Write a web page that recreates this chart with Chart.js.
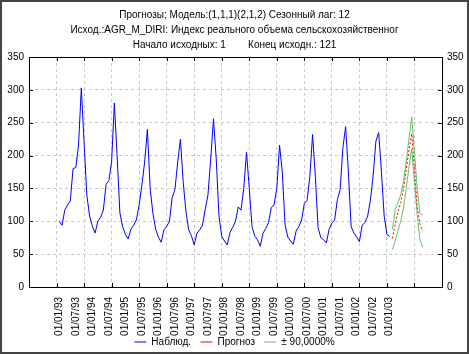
<!DOCTYPE html>
<html>
<head>
<meta charset="utf-8">
<script src="https://cdn.jsdelivr.net/npm/chart.js@4.4.1/dist/chart.umd.min.js"></script>
<style>
  html, body { margin: 0; padding: 0; background: #fff; }
  #wrap { width: 469px; height: 354px; }
</style>
</head>
<body>
<div id="wrap"><canvas id="chart" width="469" height="354"></canvas></div>
<script>
// Title lines
const titleLines = [
    'Прогнозы; Модель:(1,1,1)(2,1,2) Сезонный лаг: 12',
    'Исход.:AGR_M_DIRI: Индекс реального объема сельскохозяйственног',
    'Начало исходных: 1        Конец исходн.: 121'
];

// Observed series, cases 1..121 (Jan 1993 .. Jan 2003)
const observed = [
    100, 94, 117, 125, 131, 180, 182, 216, 303, 220, 140, 108,
    93, 82, 100, 106, 117, 156, 162, 190, 280, 200, 113, 92,
    80, 73, 88, 94, 102, 125, 155, 190, 240, 150, 112, 88,
    76, 68, 87, 92, 100, 136, 148, 190, 225, 160, 115, 87,
    78, 64, 82, 87, 94, 118, 140, 195, 256, 195, 108, 77,
    70, 64, 83, 91, 100, 122, 117, 150, 205, 150, 92, 77,
    72, 62, 82, 89, 98, 121, 125, 150, 216, 175, 95, 76,
    70, 65, 85, 92, 102, 127, 132, 168, 232, 168, 90, 75,
    72, 67, 88, 97, 102, 133, 148, 212, 244, 175, 92, 82,
    76, 69, 94, 98, 108, 132, 170, 222, 235, 175, 108, 80,
    77
];

// Forecast, cases 122..133, with 90% band
const forecastStart = 122;
const forecast = [74, 96, 115, 128, 148, 178, 208, 233, 180, 122, 95, 85];
const upper = [88, 118, 128, 140, 160, 190, 225, 259, 205, 150, 112, 110];
const lower = [57, 70, 85, 100, 120, 150, 182, 210, 160, 110, 72, 61];

// X tick labels (every 6 cases)
const tickCases = [1, 7, 13, 19, 25, 31, 37, 43, 49, 55, 61, 67, 73, 79, 85, 91, 97, 103, 109, 115, 121];
const tickLabels = [
    '01/01/93', '01/07/93', '01/01/94', '01/07/94', '01/01/95', '01/07/95', '01/01/96',
    '01/07/96', '01/01/97', '01/07/97', '01/01/98', '01/07/98', '01/01/99', '01/07/99',
    '01/01/00', '01/07/00', '01/01/01', '01/07/01', '01/01/02', '01/07/02', '01/01/03'
];

const toPoints = (vals, start) => vals.map((v, i) => ({ x: start + i, y: v }));

Chart.defaults.font.family = '"Liberation Sans", Arial, sans-serif';
Chart.defaults.font.size = 10;
Chart.defaults.color = '#000';

const gridColor = 'rgb(205,198,208)';
const gap = '\u00a0\u00a0\u00a0';

// white background, window border, plot frame and inner tick marks
const framePlugin = {
    id: 'frame',
    beforeDraw(chart) {
        const ctx = chart.ctx;
        ctx.save();
        ctx.fillStyle = '#fff';
        ctx.fillRect(0, 0, chart.width, chart.height);
        ctx.restore();
    },
    afterDraw(chart) {
        const ctx = chart.ctx;
        const a = chart.chartArea;
        ctx.save();
        ctx.strokeStyle = '#000';
        ctx.lineWidth = 1;
        ctx.strokeRect(Math.round(a.left) + 0.5, Math.round(a.top) + 0.5,
            Math.round(a.right - a.left), Math.round(a.bottom - a.top));
        ctx.beginPath();
        const xs = chart.scales.xg;
        for (let v = 0; v <= 130; v += 10) {
            const px = Math.round(xs.getPixelForValue(v)) + 0.5;
            ctx.moveTo(px, a.top); ctx.lineTo(px, a.top + 4);
            ctx.moveTo(px, a.bottom); ctx.lineTo(px, a.bottom - 4);
        }
        const ys = chart.scales.y;
        for (let v = 50; v < 350; v += 50) {
            const py = Math.round(ys.getPixelForValue(v)) + 0.5;
            ctx.moveTo(a.left, py); ctx.lineTo(a.left + 4, py);
            ctx.moveTo(a.right, py); ctx.lineTo(a.right - 4, py);
        }
        ctx.stroke();
        // outer window border
        ctx.strokeStyle = '#444';
        ctx.lineWidth = 2;
        ctx.strokeRect(1, 1, chart.width - 2, chart.height - 2);
        ctx.restore();
    }
};

new Chart(document.getElementById('chart'), {
    type: 'line',
    data: {
        datasets: [
            {
                label: 'Наблюд.' + gap,
                data: toPoints(observed, 1),
                borderColor: '#0000ff',
                borderWidth: 1,
                pointRadius: 0
            },
            {
                label: 'Прогноз' + gap,
                data: toPoints(forecast, forecastStart),
                borderColor: '#ff0000',
                borderWidth: 1,
                borderDash: [2, 2],
                pointRadius: 0
            },
            {
                label: '± 90,0000%',
                data: toPoints(upper, forecastStart),
                borderColor: '#66c266',
                borderWidth: 1,
                pointRadius: 0
            },
            {
                label: 'lower',
                data: toPoints(lower, forecastStart),
                borderColor: '#66c266',
                borderWidth: 1,
                pointRadius: 0
            }
        ]
    },
    options: {
        responsive: false,
        animation: false,
        devicePixelRatio: 1,
        layout: { padding: { top: 0, bottom: -3, left: 0, right: 0 } },
        scales: {
            x: {
                type: 'linear',
                position: 'bottom',
                min: -10,
                max: 140,
                afterBuildTicks: s => { s.ticks = tickCases.map(v => ({ value: v })); },
                ticks: {
                    autoSkip: false,
                    minRotation: 90,
                    maxRotation: 90,
                    padding: 2,
                    callback: v => tickLabels[tickCases.indexOf(v)]
                },
                grid: { display: false },
                border: { display: false },
                afterFit: s => { s.height = 49; }
            },
            xg: {
                type: 'linear',
                position: 'top',
                min: -10,
                max: 140,
                ticks: { display: false, stepSize: 10 },
                grid: { color: gridColor, drawTicks: false },
                border: { display: false, dash: [3, 3] },
                afterFit: s => { s.height = 0; }
            },
            y: {
                position: 'left',
                min: 0,
                max: 350,
                ticks: { stepSize: 50, padding: 5 },
                grid: { color: gridColor, drawTicks: false },
                border: { display: false, dash: [3, 3] },
                afterFit: s => { s.width = 29; }
            },
            y2: {
                position: 'right',
                min: 0,
                max: 350,
                ticks: { stepSize: 50, padding: 5 },
                grid: { display: false, drawTicks: false },
                border: { display: false },
                afterFit: s => { s.width = 27; }
            }
        },
        plugins: {
            title: {
                display: true,
                text: titleLines,
                color: '#000',
                font: { size: 10, weight: 'normal', lineHeight: 1.5 },
                padding: { top: 7.5, bottom: 4.5 }
            },
            legend: {
                position: 'bottom',
                labels: {
                    usePointStyle: true,
                    pointStyle: 'line',
                    pointStyleWidth: 12,
                    padding: 1,
                    color: '#000',
                    filter: item => item.text !== 'lower'
                }
            },
            tooltip: { enabled: false }
        }
    },
    plugins: [framePlugin]
});
</script>
</body>
</html>
